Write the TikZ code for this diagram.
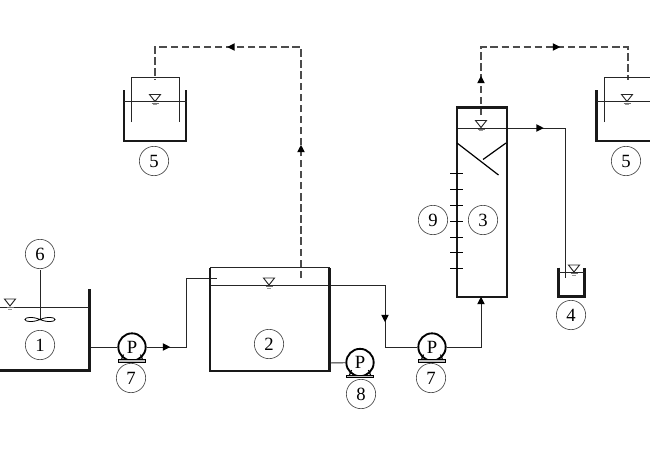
\documentclass[tikz,border=0pt]{standalone}
\usepackage{fontspec}
\setmainfont{Liberation Serif}
\tikzset{
  wall/.style={line width=2pt,line cap=butt,line join=miter,draw=black!90},
  thin line/.style={line width=0.7pt,draw=black!85},
  pipe/.style={line width=0.7pt,draw=black!85},
  gas/.style={line width=1pt,draw=black!70,dash pattern=on 5.5pt off 2.8pt},
  tag/.style={circle,draw=black!70,line width=0.5pt,minimum size=22pt,inner sep=0pt,font=\fontsize{14}{14}\selectfont,fill=white},
  pump/.style={circle,draw=black,line width=1.4pt,minimum size=20.5pt,inner sep=0pt,font=\fontsize{14}{14}\selectfont,fill=white},
}
\newcommand{\level}[2]{%
  \draw[line width=0.7pt,draw=black!85,fill=white] (#1-5.5,#2-7) -- (#1+5.5,#2-7) -- (#1,#2) -- cycle;
  \draw[line width=0.7pt,draw=black!55] (#1-3.5,#2+1.8) -- (#1+3.5,#2+1.8);
  \draw[line width=0.5pt,draw=black!40] (#1-2,#2+3) -- (#1+2,#2+3);
}
\newcommand{\pumpbase}[1]{%
  \draw[line width=0.7pt,fill=black!25] ([shift={(-13.5,12.5)}]#1.center) -- ([shift={(13.5,12.5)}]#1.center) -- ([shift={(13.5,15)}]#1.center) -- ([shift={(-13.5,15)}]#1.center) -- cycle;
  \draw[line width=0.9pt] ([shift={(-10.5,12.5)}]#1.center) -- ([shift={(-8.5,7.5)}]#1.center);
  \draw[line width=0.9pt] ([shift={(10.5,12.5)}]#1.center) -- ([shift={(8.5,7.5)}]#1.center);
}
\newcommand{\up}[2]{\fill[black] (#1-3.8,#2+3.7) -- (#1+3.8,#2+3.7) -- (#1,#2-3.7) -- cycle;}
\newcommand{\down}[2]{\fill[black] (#1-3.8,#2-3.7) -- (#1+3.8,#2-3.7) -- (#1,#2+3.7) -- cycle;}
\newcommand{\rgt}[2]{\fill[black] (#1-3.7,#2-3.8) -- (#1-3.7,#2+3.8) -- (#1+3.7,#2) -- cycle;}
\newcommand{\lft}[2]{\fill[black] (#1+3.7,#2-3.8) -- (#1+3.7,#2+3.8) -- (#1-3.7,#2) -- cycle;}
\begin{document}
\begin{tikzpicture}[x=0.75pt,y=-0.75pt]
\useasboundingbox (0,0) rectangle (650,450);
\fill[white] (0,0) rectangle (650,450);

\coordinate (t1out) at (90,347);
\coordinate (t2in) at (217,278);
\coordinate (t2over) at (210,285.5);
\coordinate (t2gas) at (301,278);
\coordinate (t2drain) at (329,363);
\coordinate (bend2) at (385,285.5);
\coordinate (t3over) at (457,128);
\coordinate (t3gas) at (481,115);
\coordinate (t3feed) at (481,297);
\coordinate (t4in) at (565,278);
\coordinate (g5a) at (155,80);
\coordinate (g5b) at (628,80);

\node[pump] (p1) at (132,347) {P};
\node[pump] (p2) at (432,347) {P};
\node[pump] (p3) at (360,362.5) {P};
\pumpbase{p1}\pumpbase{p2}\pumpbase{p3}

\draw[pipe] (t1out) -- (p1);
\draw[pipe] (p1) -- (186,347) -- (186,278) -- (t2in);
\draw[pipe] (t2over) -- (bend2) -- (385,347) -- (p2);
\draw[pipe] (t2drain) -- (p3);
\draw[pipe] (p2) -- (481,347) -- (t3feed);
\draw[pipe] (t3over) -- (565,128) -- (t4in);

\draw[gas] (t2gas) -- (301,47) -- (155,47) -- (g5a);
\draw[gas] (t3gas) -- (481,47) -- (628,47) -- (g5b);

% tank 1
\draw[wall] (0,370.5) -- (89.5,370.5) -- (89.5,289);
\draw[thin line] (0,307.5) -- (89,307.5);
\level{10}{306}
\draw[thin line] (40,270) -- (40,320);
\draw[line width=0.6pt] (40,319.5) .. controls (33,316.5) and (25,317) .. (25,319.5) .. controls (25,322) and (33,322.5) .. (40,319.5)
  .. controls (47,316.5) and (55,317) .. (55,319.5) .. controls (55,322) and (47,322.5) .. (40,319.5);
\node[tag] (c6) at (40,254) {6};
\node[tag] (c1) at (40,345) {1};

% tank 2
\draw[wall] (210,267.5) -- (210,371) -- (329.5,371) -- (329.5,267.5);
\draw[thin line] (210,267.5) -- (329.5,267.5);
\level{269}{285}
\node[tag] (c2) at (269,344) {2};
\node[tag] (c7a) at (131,378) {7};
\node[tag] (c8) at (361,394) {8};
\node[tag] (c7b) at (431,378) {7};

% tank 3
\draw[wall] (457,107.5) rectangle (507,297);
\level{481}{127.5}
\draw[line width=0.9pt] (457,143) -- (498.5,175);
\draw[line width=0.9pt] (506,143) -- (483,159.5);
\foreach \yy in {173,189,205,221,237,252,268}{
  \draw[line width=0.6pt] (450,\yy) -- (463,\yy);
}
\node[tag] (c9) at (433,220) {9};
\node[tag] (c3) at (483,220) {3};

% tank 4
\draw[wall] (558.5,267.5) -- (558.5,296.5) -- (584.5,296.5) -- (584.5,267.5);
\draw[thin line] (558.5,272.5) -- (584.5,272.5);
\level{574}{272}
\node[tag] (c4) at (571,315) {4};

% tank 5 left
\draw[wall] (124,90) -- (124,141) -- (186,141) -- (186,90);
\draw[thin line] (131,122) -- (131,77) -- (179,77) -- (179,122);
\draw[thin line] (124,101.5) -- (187,101.5);
\level{155}{101.5}
\node[tag] (c5a) at (154,161) {5};

% tank 5 right
\draw[wall] (596.5,90) -- (596.5,141) -- (652,141);
\draw[thin line] (604,122) -- (604,77) -- (652,77);
\draw[thin line] (596.5,101.5) -- (652,101.5);
\level{627}{101.5}
\node[tag] (c5b) at (626,161) {5};

% arrowheads
\rgt{166.5}{347}
\down{385}{318.5}
\up{481}{300.5}
\rgt{540}{128}
\up{301}{148.5}
\lft{231}{47}
\up{481}{79.5}
\rgt{556.5}{47}
\end{tikzpicture}
\end{document}
